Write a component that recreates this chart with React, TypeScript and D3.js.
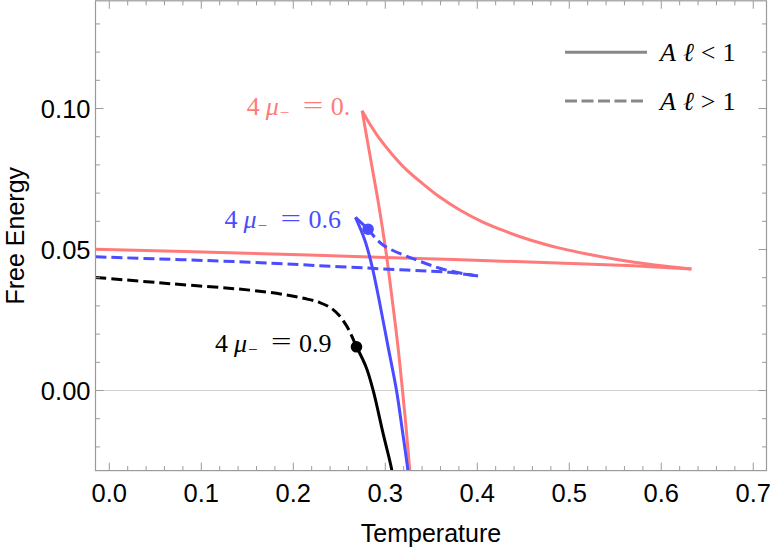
import React from 'react';
import * as d3 from 'd3';

type Pt = [number, number];

// Free-energy branches, each as [temperature, free energy]
// 4 mu_- = 0 (all solid)
const redLowerBranch: Pt[] = [
  [-0.015, 0.0501], [0.15, 0.0487], [0.3, 0.0472], [0.48, 0.0453], [0.57, 0.0442], [0.6328, 0.0431],
];
const redUpperBranch: Pt[] = [
  [0.6328, 0.0431], [0.5929, 0.0445], [0.5549, 0.0463], [0.5223, 0.0482], [0.4897, 0.0505],
  [0.4592, 0.0532], [0.431, 0.0564], [0.4049, 0.0599], [0.381, 0.064], [0.3592, 0.0686],
  [0.3397, 0.0736], [0.3223, 0.0785], [0.3071, 0.0839], [0.294, 0.0892], [0.2832, 0.0945],
  [0.2748, 0.0992],
];
const redFallingBranch: Pt[] = [
  [0.2748, 0.0992], [0.2842, 0.0818], [0.2929, 0.0658], [0.3005, 0.0498], [0.3076, 0.0321],
  [0.3136, 0.0161], [0.3187, 0.0001], [0.3228, -0.0138], [0.3266, -0.0282], [0.3275, -0.032],
];

// 4 mu_- = 0.6
const blueLowerBranch: Pt[] = [
  [-0.015, 0.0474], [0.1527, 0.0455], [0.2505, 0.0439], [0.323, 0.0427], [0.3701, 0.0419], [0.4009, 0.0406],
];
const blueUpperDashed: Pt[] = [
  [0.4009, 0.0406], [0.3665, 0.0427], [0.3339, 0.0463], [0.2976, 0.0516], [0.2813, 0.0572],
];
const blueUpperSolid: Pt[] = [[0.2813, 0.0572], [0.2676, 0.0614]];
const blueFallingBranch: Pt[] = [
  [0.2676, 0.0614], [0.2777, 0.0534], [0.2853, 0.0445], [0.2933, 0.0321], [0.3027, 0.0161],
  [0.3122, 0.0], [0.3185, -0.014], [0.3245, -0.0282], [0.3255, -0.032],
];

// 4 mu_- = 0.9
const blackDashed: Pt[] = [
  [-0.015, 0.0401], [0.0658, 0.0379], [0.1527, 0.0356], [0.1908, 0.034], [0.2125, 0.0326],
  [0.2288, 0.0312], [0.2408, 0.0293], [0.2505, 0.0264], [0.2587, 0.0225], [0.2636, 0.0193],
  [0.2687, 0.0155],
];
const blackSolid: Pt[] = [
  [0.2687, 0.0155], [0.2795, 0.008], [0.2867, 0.0002], [0.2976, -0.0152], [0.3074, -0.0288], [0.308, -0.032],
];

// Points where A*l crosses 1
const transitionPoints: { pt: Pt; color: string }[] = [
  { pt: [0.2813, 0.0572], color: '#4b4bff' },
  { pt: [0.2687, 0.0155], color: '#000000' },
];

const curveLabels = ['0.', '0.6', '0.9'];
const labelAnchors: Pt[] = [[0.1495, 0.0977], [0.1252, 0.0575], [0.1150, 0.0138]];

const xMajorTicks = [0, 0.1, 0.2, 0.3, 0.4, 0.5, 0.6, 0.7];
const xTickLabels = ['0.0', '0.1', '0.2', '0.3', '0.4', '0.5', '0.6', '0.7'];
const yMajorTicks = [0, 0.05, 0.1];
const yTickLabels = ['0.00', '0.05', '0.10'];

const legendLabels = ['<', '>'];

const RED = '#ff7b7b';
const BLUE = '#4b4bff';
const BLACK = '#000000';
const FRAME = '#9a9a9a';

const W = 773;
const H = 550;
const frame = { left: 95.5, right: 766.5, top: 0.8, bottom: 470.6 };

const x = d3.scaleLinear().domain([-0.015, 0.7144]).range([frame.left, frame.right]);
const y = d3.scaleLinear().domain([-0.0284, 0.1382]).range([frame.bottom, frame.top]);

const line = d3
  .line<Pt>()
  .x((d) => x(d[0]))
  .y((d) => y(d[1]))
  .curve(d3.curveCatmullRom.alpha(0.5));

const series: { pts: Pt[]; color: string; dashed: boolean }[] = [
  { pts: redLowerBranch, color: RED, dashed: false },
  { pts: redUpperBranch, color: RED, dashed: false },
  { pts: redFallingBranch, color: RED, dashed: false },
  { pts: blueLowerBranch, color: BLUE, dashed: true },
  { pts: blueUpperDashed, color: BLUE, dashed: true },
  { pts: blueUpperSolid, color: BLUE, dashed: false },
  { pts: blueFallingBranch, color: BLUE, dashed: false },
  { pts: blackDashed, color: BLACK, dashed: true },
  { pts: blackSolid, color: BLACK, dashed: false },
];
const labelColors = [RED, BLUE, BLACK];

const range = (a: number, b: number, step: number) => {
  const out: number[] = [];
  for (let i = 0; a + i * step <= b + 1e-9; i++) out.push(+(a + i * step).toFixed(4));
  return out;
};
const xMinorTicks = range(0, 0.7, 0.02).filter((v) => !xMajorTicks.some((m) => Math.abs(m - v) < 1e-6));
const yMinorTicks = range(-0.02, 0.13, 0.01).filter((v) => !yMajorTicks.some((m) => Math.abs(m - v) < 1e-6));

const SERIF = "'Liberation Serif','DejaVu Serif',serif";
const SANS = "'Liberation Sans',Arial,sans-serif";

function MuLabel({ px, py, value, color }: { px: number; py: number; value: string; color: string }) {
  return (
    <g transform={`translate(${px},${py})`} fill={color} fontFamily={SERIF} fontSize={26}>
      <text x={0} y={0}>4</text>
      <text x={19} y={0} fontStyle="italic">μ</text>
      <text x={33} y={3} fontSize={17}>−</text>
      <text transform="translate(56,-1.5) scale(1.4,1)">=</text>
      <text x={84} y={0}>{value}</text>
    </g>
  );
}

export default function App() {
  const majorLen = 8;
  const minorLen = 4.5;
  return (
    <svg width={W} height={H} style={{ position: 'absolute', left: 0, top: 0, background: '#fff' }}>
      <defs>
        <clipPath id="plot-clip">
          <rect x={frame.left} y={frame.top} width={frame.right - frame.left} height={frame.bottom - frame.top} />
        </clipPath>
      </defs>
      <rect x={0} y={0} width={W} height={H} fill="#fff" />

      {/* zero reference line */}
      <line x1={frame.left} x2={frame.right} y1={y(0)} y2={y(0)} stroke="#d2d2d2" strokeWidth={1.2} />

      {/* curves */}
      <g clipPath="url(#plot-clip)" fill="none" strokeWidth={3} strokeLinejoin="round">
        {series.map((s, i) => (
          <path
            key={i}
            d={line(s.pts) ?? ''}
            stroke={s.color}
            strokeDasharray={s.dashed ? '11,5' : undefined}
          />
        ))}
        {transitionPoints.map((p, i) => (
          <circle key={i} cx={x(p.pt[0])} cy={y(p.pt[1])} r={5.8} fill={p.color} />
        ))}
      </g>

      {/* curve labels */}
      {curveLabels.map((v, i) => (
        <MuLabel key={i} px={x(labelAnchors[i][0])} py={y(labelAnchors[i][1])} value={v} color={labelColors[i]} />
      ))}

      {/* frame */}
      <rect
        x={frame.left}
        y={frame.top}
        width={frame.right - frame.left}
        height={frame.bottom - frame.top}
        fill="none"
        stroke={FRAME}
        strokeWidth={1.2}
      />
      <g stroke={FRAME} strokeWidth={1}>
        {xMajorTicks.map((t) => (
          <g key={'xM' + t}>
            <line x1={x(t)} x2={x(t)} y1={frame.bottom} y2={frame.bottom - majorLen} />
            <line x1={x(t)} x2={x(t)} y1={frame.top} y2={frame.top + majorLen} />
          </g>
        ))}
        {xMinorTicks.map((t) => (
          <g key={'xm' + t}>
            <line x1={x(t)} x2={x(t)} y1={frame.bottom} y2={frame.bottom - minorLen} />
            <line x1={x(t)} x2={x(t)} y1={frame.top} y2={frame.top + minorLen} />
          </g>
        ))}
        {yMajorTicks.map((t) => (
          <g key={'yM' + t}>
            <line x1={frame.left} x2={frame.left + majorLen} y1={y(t)} y2={y(t)} />
            <line x1={frame.right} x2={frame.right - majorLen} y1={y(t)} y2={y(t)} />
          </g>
        ))}
        {yMinorTicks.map((t) => (
          <g key={'ym' + t}>
            <line x1={frame.left} x2={frame.left + minorLen} y1={y(t)} y2={y(t)} />
            <line x1={frame.right} x2={frame.right - minorLen} y1={y(t)} y2={y(t)} />
          </g>
        ))}
      </g>

      {/* tick labels */}
      <g fontFamily={SANS} fontSize={25.5} fill="#000">
        {xMajorTicks.map((t, i) => (
          <text key={'xl' + t} x={x(t)} y={501.5} textAnchor="middle">
            {xTickLabels[i]}
          </text>
        ))}
        {yMajorTicks.map((t, i) => (
          <text key={'yl' + t} x={90.5} y={y(t) + 9} textAnchor="end">
            {yTickLabels[i]}
          </text>
        ))}
      </g>

      {/* axis titles */}
      <text x={(frame.left + frame.right) / 2} y={541.5} textAnchor="middle" fontFamily={SANS} fontSize={25}>
        Temperature
      </text>
      <text
        transform={`translate(23.5,${(frame.top + frame.bottom) / 2}) rotate(-90)`}
        textAnchor="middle"
        fontFamily={SANS}
        fontSize={25}
      >
        Free Energy
      </text>

      {/* legend */}
      <g>
        {legendLabels.map((op, i) => {
          const ly = 52.3 + i * 48.7;
          return (
            <g key={op}>
              <line
                x1={565}
                x2={647}
                y1={ly}
                y2={ly}
                stroke="#888"
                strokeWidth={3}
                strokeDasharray={i === 1 ? '12,4.5' : undefined}
              />
              <text x={660} y={ly + 8.5} fontFamily={SERIF} fontSize={26} fill="#000">
                <tspan fontStyle="italic">A</tspan>
                <tspan fontStyle="italic" dx={7}>ℓ</tspan>
                <tspan dx={7}>{op}</tspan>
                <tspan dx={7}>1</tspan>
              </text>
            </g>
          );
        })}
      </g>
    </svg>
  );
}
